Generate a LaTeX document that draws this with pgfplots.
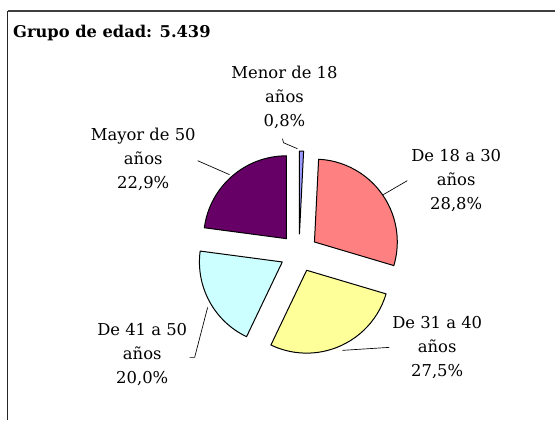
\documentclass[border=0pt]{standalone}
\usepackage{pgfplots}
\pgfplotsset{compat=1.18}
\usepackage{pgfplotstable}
\usepackage{fontspec}
\setmainfont{DejaVu Serif}
\definecolor{c0}{HTML}{9999FF}
\definecolor{c1}{HTML}{FF8080}
\definecolor{c2}{HTML}{FFFF99}
\definecolor{c3}{HTML}{CCFFFF}
\definecolor{c4}{HTML}{660066}
\definecolor{frame}{HTML}{404040}

\pgfplotstableread{
idx value
0 0.8
1 28.8
2 27.5
3 20.0
4 22.9
}\piedata

\begin{document}
\begin{tikzpicture}
\begin{axis}[x=0.75pt,y=0.75pt,xmin=0,xmax=556,ymin=0,ymax=421,
  hide axis,clip=false]
\pgfplotsextra{%
 \gdef\cum{0}%
 \pgfplotstableforeachcolumnelement{value}\of\piedata\as\val{%
   \pgfmathsetmacro\s{90-\cum*3.6}%
   \pgfmathsetmacro\e{\s-\val*3.6}%
   \pgfmathsetmacro\m{(\s+\e)/2}%
   \edef\col{c\pgfplotstablerow}%
   \fill[fill=\col, draw=black, line width=0.75pt, line join=round]
     (axis cs:299.5,167.6) ++(\m:14.25pt) -- ++(\s:62.25pt)
     arc[start angle=\s, end angle=\e, radius=62.25pt] -- cycle;
   \pgfmathsetmacro\newcum{\cum+\val}%
   \xdef\cum{\newcum}%
 }%
}
% frame
\draw[frame, line width=1.5pt] (axis cs:8,410) -- (axis cs:556,410);
\draw[black!85, line width=0.75pt] (axis cs:8,410) -- (axis cs:8,0);
\path (axis cs:0,0) (axis cs:556,421);
% title
\node[anchor=west, font=\fontsize{12.2}{14}\selectfont\bfseries, inner sep=0pt] at (axis cs:13,388) {Grupo de edad: 5.439};
% leaders
\draw[black, line width=0.5pt] (axis cs:283,282) -- (axis cs:284,278) -- (axis cs:298,272);
\draw[black, line width=0.5pt] (axis cs:408,240) -- (axis cs:384,226);
\draw[black, line width=0.5pt] (axis cs:390,73) -- (axis cs:343,70);
\draw[black, line width=0.5pt] (axis cs:190,63) -- (axis cs:195,63) -- (axis cs:208,113);
\draw[black, line width=0.5pt] (axis cs:198,260) -- (axis cs:230,246);
% labels
\tikzset{lbl/.style={align=center, font=\fontsize{12.3}{18}\selectfont, inner sep=0pt}}
\node[lbl] at (axis cs:285,323) {Menor de 18\\años\\0,8\%};
\node[lbl] at (axis cs:457,240) {De 18 a 30\\años\\28,8\%};
\node[lbl] at (axis cs:438,73) {De 31 a 40\\años\\27,5\%};
\node[lbl] at (axis cs:142.5,66) {De 41 a 50\\años\\20,0\%};
\node[lbl] at (axis cs:143.5,261) {Mayor de 50\\años\\22,9\%};
\end{axis}
\end{tikzpicture}
\end{document}
